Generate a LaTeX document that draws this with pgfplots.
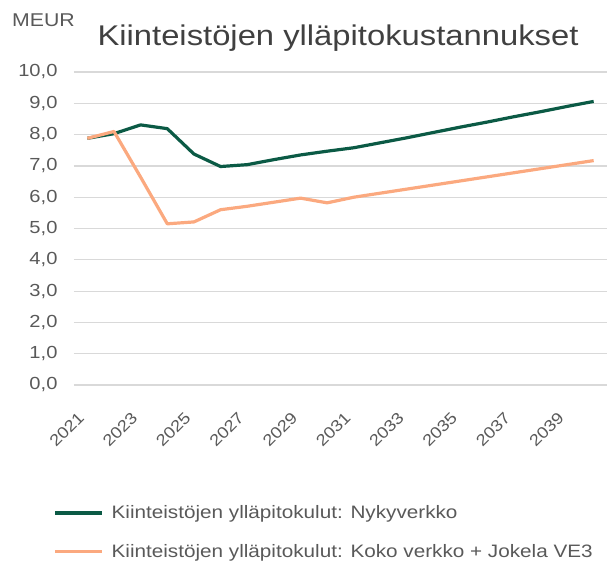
\documentclass[border=0pt]{standalone}
\usepackage{pgfplots}
\pgfplotsset{compat=1.18}
\usepackage{fontspec}
\setmainfont{Liberation Sans}[FakeStretch=1.15]
\definecolor{cgreen}{HTML}{0B5A45}
\definecolor{corange}{HTML}{FBA97F}
\definecolor{ctext}{HTML}{595959}
\definecolor{ctitle}{HTML}{404040}
\definecolor{cgrid}{HTML}{D9D9D9}
\begin{document}
\begin{tikzpicture}[x=1pt,y=1pt]
\useasboundingbox (-74pt,-175pt) rectangle (534pt,385pt);
\begin{axis}[
  at={(0,0)}, anchor=south west,
  scale only axis, width=533pt, height=313pt,
  xmin=-0.5, xmax=19.5, ymin=0, ymax=10,
  xtick={0,2,...,18},
  xticklabels={2021,2023,2025,2027,2029,2031,2033,2035,2037,2039},
  ytick={0,1,...,10},
  ymajorgrids, grid style={cgrid, line width=1.2pt},
  axis line style={draw=none},
  major tick length=0pt,
  tick label style={text=ctext},
  yticklabel style={font=\fontsize{17.5}{20}\selectfont, xshift=-13pt},
  xticklabel style={font=\fontsize{16}{19}\selectfont, inner sep=0pt, xshift=-6pt, yshift=-30pt, rotate=45, anchor=east},
  /pgf/number format/.cd, fixed, fixed zerofill, precision=1, use comma, assume math mode=true,
  /pgfplots/.cd,
  legend style={at={(-0.039,-0.382)}, anchor=north west, draw=none, fill=none, inner sep=0pt,
    font=\fontsize{18}{21}\selectfont, text=ctext, row sep=22pt,
    nodes={inner sep=1pt},
    /tikz/every odd column/.append style={column sep=7pt}},
  legend cell align=left,
  legend image code/.code={\draw[#1] (0pt,0pt) -- (47pt,0pt);},
]
\addplot[cgreen, line width=3.2pt, line join=round] coordinates {
(0,7.88) (1,8.03) (2,8.31) (3,8.19) (4,7.38) (5,6.98) (6,7.04) (7,7.2) (8,7.35) (9,7.47)
(10,7.58) (11,7.74) (12,7.9) (13,8.07) (14,8.24) (15,8.4) (16,8.57) (17,8.73) (18,8.9) (19,9.06)};
\addlegendentry{Kiinteistöjen ylläpitokulut: Nykyverkko}
\addplot[corange, line width=3.2pt, line join=round] coordinates {
(0,7.88) (1,8.1) (2,6.64) (3,5.15) (4,5.21) (5,5.6) (6,5.71) (7,5.84) (8,5.97) (9,5.82)
(10,6.0) (11,6.13) (12,6.26) (13,6.39) (14,6.52) (15,6.65) (16,6.78) (17,6.91) (18,7.04) (19,7.17)};
\addlegendentry{Kiinteistöjen ylläpitokulut: Koko verkko + Jokela VE3}
\end{axis}
\node[anchor=west, inner sep=0pt, text=ctext, font=\fontsize{18.5}{21}\selectfont] at (-62,365) {MEUR};
\node[text=ctitle, font=\fontsize{28.5}{32}\selectfont] at (264,347) {Kiinteistöjen ylläpitokustannukset};
\end{tikzpicture}
\end{document}
